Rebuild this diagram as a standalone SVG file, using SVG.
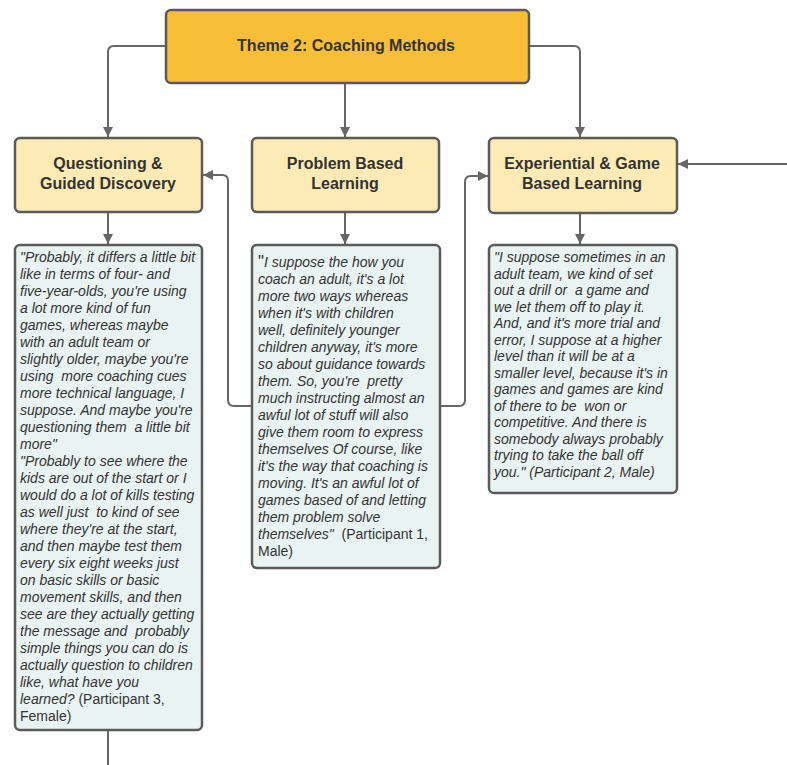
<svg xmlns="http://www.w3.org/2000/svg" width="787" height="765" viewBox="0 0 787 765">
<style>
.bg{fill:#ffffff}
.theme rect{fill:#F7BF38;stroke:#5a5a5a;stroke-width:2.5}
.cat rect{fill:#FCEBB5;stroke:#5a5a5a;stroke-width:2.5}
.quote rect{fill:#E9F4F2;stroke:#5a5a5a;stroke-width:2.5}
.h{font-family:"Liberation Sans",Arial,sans-serif;font-weight:bold;font-size:16px;fill:#333;text-anchor:middle}
.q{font-family:"Liberation Sans",Arial,sans-serif;font-style:italic;font-size:14px;fill:#333}
.n{font-style:normal}
.con path{fill:none;stroke:#666;stroke-width:2}
</style>
<defs>
<marker id="arr" viewBox="0 0 10 10" refX="10" refY="5" markerWidth="10" markerHeight="10" markerUnits="userSpaceOnUse" orient="auto">
<path d="M0,0 L10,5 L0,10 z" fill="#666"/>
</marker>
</defs>
<rect class="bg" x="0" y="0" width="787" height="765"/>
<g class="con">
<path d="M166,46 H114 Q108,46 108,52 V137" marker-end="url(#arr)"/>
<path d="M345,83 V137" marker-end="url(#arr)"/>
<path d="M529,46 H574 Q580,46 580,52 V137" marker-end="url(#arr)"/>
<path d="M787,164 H678" marker-end="url(#arr)"/>
<path d="M108,212 V244" marker-end="url(#arr)"/>
<path d="M345,212 V244" marker-end="url(#arr)"/>
<path d="M580,212 V244" marker-end="url(#arr)"/>
<path d="M108,730 V765"/>
<path d="M252,406 H234 Q228,406 228,400 V181 Q228,175 222,175 H203" marker-end="url(#arr)"/>
<path d="M440,406 H459 Q465,406 465,400 V182 Q465,176 471,176 H488" marker-end="url(#arr)"/>
</g>
<g id="theme" class="theme">
<rect x="166" y="10" width="363" height="73" rx="5"/>
<text class="h" x="346" y="51">Theme 2: Coaching Methods</text>
</g>
<g id="questioning" class="cat">
<rect x="15" y="138" width="187" height="74" rx="5"/>
<text class="h" x="108" y="169">Questioning &amp;</text>
<text class="h" x="108" y="189">Guided Discovery</text>
</g>
<g id="problem" class="cat">
<rect x="252" y="138" width="187" height="74" rx="5"/>
<text class="h" x="345" y="169">Problem Based</text>
<text class="h" x="345" y="189">Learning</text>
</g>
<g id="experiential" class="cat">
<rect x="489" y="138" width="188" height="75" rx="5"/>
<text class="h" x="582" y="169">Experiential &amp; Game</text>
<text class="h" x="582" y="189">Based Learning</text>
</g>
<g id="quote1" class="quote">
<rect x="15" y="245" width="187" height="485" rx="5"/>
<text class="q">
<tspan x="20" y="262">"Probably, it differs a little bit</tspan>
<tspan x="20" dy="17">like in terms of four- and</tspan>
<tspan x="20" dy="17">five-year-olds, you're using</tspan>
<tspan x="20" dy="17">a lot more kind of fun</tspan>
<tspan x="20" dy="17">games, whereas maybe</tspan>
<tspan x="20" dy="17">with an adult team or</tspan>
<tspan x="20" dy="17">slightly older, maybe you're</tspan>
<tspan x="20" dy="17" xml:space="preserve">using  more coaching cues</tspan>
<tspan x="20" dy="17">more technical language, I</tspan>
<tspan x="20" dy="17">suppose. And maybe you're</tspan>
<tspan x="20" dy="17" xml:space="preserve">questioning them  a little bit</tspan>
<tspan x="20" dy="17">more"</tspan>
<tspan x="20" dy="17">"Probably to see where the</tspan>
<tspan x="20" dy="17">kids are out of the start or I</tspan>
<tspan x="20" dy="17">would do a lot of kills testing</tspan>
<tspan x="20" dy="17" xml:space="preserve">as well just  to kind of see</tspan>
<tspan x="20" dy="17">where they're at the start,</tspan>
<tspan x="20" dy="17">and then maybe test them</tspan>
<tspan x="20" dy="17">every six eight weeks just</tspan>
<tspan x="20" dy="17">on basic skills or basic</tspan>
<tspan x="20" dy="17">movement skills, and then</tspan>
<tspan x="20" dy="17">see are they actually getting</tspan>
<tspan x="20" dy="17" xml:space="preserve">the message and  probably</tspan>
<tspan x="20" dy="17">simple things you can do is</tspan>
<tspan x="20" dy="17">actually question to children</tspan>
<tspan x="20" dy="17">like, what have you</tspan>
<tspan x="20" dy="17">learned? <tspan class="n">(Participant 3,</tspan></tspan>
<tspan x="20" dy="17" class="n">Female)</tspan>
</text>
</g>
<g id="quote2" class="quote">
<rect x="252" y="245" width="188" height="323" rx="5"/>
<text class="q">
<tspan x="258" y="267"><tspan class="n" font-size="17">"</tspan>I suppose the how you</tspan>
<tspan x="258" dy="17">coach an adult, it's a lot</tspan>
<tspan x="258" dy="17">more two ways whereas</tspan>
<tspan x="258" dy="17">when it's with children</tspan>
<tspan x="258" dy="17">well, definitely younger</tspan>
<tspan x="258" dy="17">children anyway, it's more</tspan>
<tspan x="258" dy="17">so about guidance towards</tspan>
<tspan x="258" dy="17" xml:space="preserve">them. So, you're  pretty</tspan>
<tspan x="258" dy="17">much instructing almost an</tspan>
<tspan x="258" dy="17">awful lot of stuff will also</tspan>
<tspan x="258" dy="17">give them room to express</tspan>
<tspan x="258" dy="17">themselves Of course, like</tspan>
<tspan x="258" dy="17">it's the way that coaching is</tspan>
<tspan x="258" dy="17">moving. It's an awful lot of</tspan>
<tspan x="258" dy="17">games based of and letting</tspan>
<tspan x="258" dy="17">them problem solve</tspan>
<tspan x="258" dy="17" xml:space="preserve">themselves"  <tspan class="n">(Participant 1,</tspan></tspan>
<tspan x="258" dy="17" class="n">Male)</tspan>
</text>
</g>
<g id="quote3" class="quote">
<rect x="489" y="245" width="188" height="248" rx="5"/>
<text class="q">
<tspan x="494" y="262">"I suppose sometimes in an</tspan>
<tspan x="494" dy="16.5">adult team, we kind of set</tspan>
<tspan x="494" dy="16.5" xml:space="preserve">out a drill or  a game and</tspan>
<tspan x="494" dy="16.5">we let them off to play it.</tspan>
<tspan x="494" dy="16.5">And, and it's more trial and</tspan>
<tspan x="494" dy="16.5">error, I suppose at a higher</tspan>
<tspan x="494" dy="16.5">level than it will be at a</tspan>
<tspan x="494" dy="16.5">smaller level, because it's in</tspan>
<tspan x="494" dy="16.5">games and games are kind</tspan>
<tspan x="494" dy="16.5" xml:space="preserve">of there to be  won or</tspan>
<tspan x="494" dy="16.5">competitive. And there is</tspan>
<tspan x="494" dy="16.5">somebody always probably</tspan>
<tspan x="494" dy="16.5">trying to take the ball off</tspan>
<tspan x="494" dy="16.5">you." (Participant 2, Male)</tspan>
</text>
</g>
</svg>
